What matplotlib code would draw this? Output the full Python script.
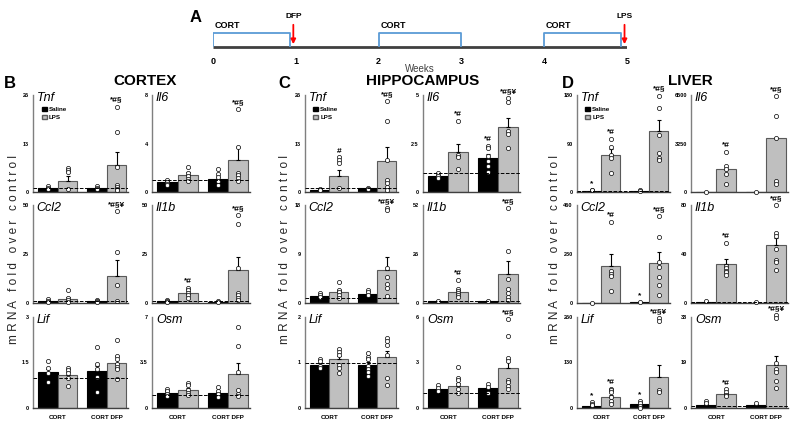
import numpy as np
import matplotlib
matplotlib.use("Agg")
import matplotlib.pyplot as plt
from matplotlib.patches import Patch

plt.rcParams['font.family'] = ['Liberation Sans', 'DejaVu Sans']

# ---- timeline (panel A) ----
week_ticks = [0, 1, 2, 3, 4, 5]
cort_periods = [(0, 0.93), (2, 3.0), (4, 4.93)]
event_names = ['DFP', 'LPS']
event_weeks = [0.97, 4.97]

# ---- groups ----
groups = ['CORT', 'CORT DFP']
treat = ['Saline', 'LPS']

# ---- cortex ----
ctx_tnf_mean = [1.0, 2.9, 1.0, 7.3]
ctx_tnf_err = [0.2, 1.5, 0.2, 3.4]
ctx_tnf_pts = [[1.5, 1.2, 0.9], [6.4, 5.9, 5.3, 0.9], [1.5, 1.1, 0.9], [22.9, 16, 6.6, 1.8, 1.4, 0.9, 0.5]]
ctx_tnf_sig = ['', '', '', '*#§']

ctx_il6_mean = [0.8, 1.42, 1.1, 2.66]
ctx_il6_err = [0.1, 0.2, 0.15, 1.05]
ctx_il6_pts = [[0.95, 0.8, 0.7, 0.6], [2.1, 1.56, 1.29, 1.07, 0.88], [1.86, 1.48, 1.26, 0.88, 0.6], [6.85, 3.73, 1.56, 1.37, 1.15, 0.93]]
ctx_il6_sig = ['', '', '', '*#§']

ctx_ccl2_mean = [0.9, 1.9, 0.9, 14]
ctx_ccl2_err = [0.3, 1.0, 0.3, 7.7]
ctx_ccl2_pts = [[2.0, 1.0, 0.5], [6.5, 2.8, 1.4, 0.5], [1.7, 0.9, 0.5], [47, 26, 9.3, 1.0]]
ctx_ccl2_sig = ['', '', '', '*#§¥']

ctx_il1b_mean = [0.9, 5.3, 0.3, 16.6]
ctx_il1b_err = [0.3, 0.6, 0.2, 6.8]
ctx_il1b_pts = [[1.7, 0.8, 0.5], [7.8, 6.6, 5.2, 4.0, 2.6], [0.9, 0.3], [45, 40.5, 18, 5.3, 4.0, 2.8, 1.7]]
ctx_il1b_sig = ['', '*#', '', '*#§']

ctx_lif_mean = [1.2, 1.09, 1.22, 1.48]
ctx_lif_err = [0.08, 0.1, 0.15, 0.22]
ctx_lif_pts = [[1.56, 1.33, 1.17, 0.86], [1.33, 1.26, 1.17, 0.99, 0.72], [2.0, 1.44, 1.3, 1.03, 0.52], [2.24, 1.7, 1.61, 1.44, 1.36, 1.28, 0.97]]
ctx_lif_sig = ['', '', '', '']

ctx_osm_mean = [1.17, 1.42, 1.14, 2.59]
ctx_osm_err = [0.1, 0.15, 0.12, 0.86]
ctx_osm_pts = [[1.48, 1.3, 1.11, 0.96], [1.94, 1.74, 1.42, 1.17, 0.98], [1.63, 1.3, 1.04, 0.85], [6.2, 4.8, 2.77, 1.42, 1.04, 0.9]]
ctx_osm_sig = ['', '', '', '']

# ---- hippocampus ----
hip_tnf_mean = [0.6, 4.2, 1.0, 8.4]
hip_tnf_err = [0.1, 1.7, 0.1, 3.6]
hip_tnf_pts = [[0.9, 0.6], [9.25, 8.5, 7.8, 1.05], [1.1, 0.9], [24.4, 18.9, 8.7, 3.1, 2.4, 1.3, 0.6]]
hip_tnf_sig = ['', '#', '', '*#§']

hip_il6_mean = [0.81, 2.08, 1.73, 3.34]
hip_il6_err = [0.06, 0.41, 0.22, 0.47]
hip_il6_pts = [[0.97, 0.85, 0.71], [3.64, 1.9, 1.78, 1.19], [2.37, 2.25, 1.86, 1.61, 1.36, 1.05], [4.83, 4.63, 3.14, 2.97, 2.25]]
hip_il6_sig = ['', '*#', '*#', '*#§¥']

hip_ccl2_mean = [1.27, 1.94, 1.7, 6.06]
hip_ccl2_err = [0.2, 0.5, 0.25, 2.44]
hip_ccl2_pts = [[1.8, 1.5, 1.1], [3.8, 2.4, 2.0, 1.5, 0.9], [2.4, 2.0, 1.5], [17.4, 17.0, 6.4, 4.7, 3.5, 2.8, 1.3]]
hip_ccl2_sig = ['', '', '', '*#§¥']

hip_il1b_mean = [0.9, 5.8, 0.9, 15.6]
hip_il1b_err = [0.2, 1.0, 0.2, 6.8]
hip_il1b_pts = [[1.2], [12, 7.4, 6.5, 5.3, 4.0, 3.0], [1.3], [50.3, 27.5, 12.6, 7.5, 5.3, 3.0, 1.75]]
hip_il1b_sig = ['', '*#', '', '*#§']

hip_lif_mean = [0.95, 1.07, 0.95, 1.11]
hip_lif_err = [0.04, 0.07, 0.06, 0.15]
hip_lif_pts = [[1.07, 1.04, 0.93, 0.87], [1.3, 1.23, 1.16, 0.95, 0.87, 0.78], [1.21, 1.13, 1.07, 0.93, 0.86, 0.79, 0.71], [1.54, 1.47, 1.39, 1.16, 0.67, 0.5]]
hip_lif_sig = ['', '', '', '']

hip_osm_mean = [1.22, 1.44, 1.29, 2.62]
hip_osm_err = [0.1, 0.2, 0.1, 0.6]
hip_osm_pts = [[1.5, 1.35, 1.1], [2.69, 2.0, 1.84, 1.56, 1.22, 0.96], [1.56, 1.4, 1.0], [5.9, 4.78, 3.29, 3.13, 1.84, 1.69, 1.47, 1.24]]
hip_osm_sig = ['', '', '', '*#§']

# ---- liver ----
liv_tnf_mean = [2.5, 69.5, 2.5, 113]
liv_tnf_err = [0.8, 10, 0.8, 20.5]
liv_tnf_pts = [[4.3, 3.0], [98, 82.6, 68, 63, 34.8], [4.0, 2.5], [179, 156.5, 105.6, 73, 63, 59]]
liv_tnf_sig = ['*', '*#', '', '*#§']

liv_il6_mean = [1, 1569, 1, 3631]
liv_il6_err = [0, 0, 0, 0]
liv_il6_pts = [[1], [2690, 1726, 1569, 1233, 516], [1], [6455, 5110, 3587, 740, 560]]
liv_il6_sig = ['', '*#', '', '*#§']

liv_ccl2_mean = [1, 173, 3, 189]
liv_ccl2_err = [0, 59, 1, 51]
liv_ccl2_pts = [[1], [380, 149, 136, 128, 56], [3], [409, 308, 192, 171, 123, 85, 37]]
liv_ccl2_sig = ['', '*#', '*', '*#§']

liv_il1b_mean = [0.5, 32, 0.3, 47.4]
liv_il1b_err = [0.2, 3.6, 0.1, 5.6]
liv_il1b_pts = [[1.4], [48.7, 30.6, 28.7, 26.5, 25, 23.1], [1.1], [80, 57, 54.3, 43.7, 35.4, 33.4, 27.3]]
liv_il1b_sig = ['', '*#', '', '*#§']

liv_lif_mean = [5.7, 31.4, 10.5, 88.6]
liv_lif_err = [2, 6, 2, 33.3]
liv_lif_pts = [[17, 12.4, 7.6], [55, 50.5, 45.7, 31.4, 19, 12.4], [19, 15, 7, 1], [257, 250, 52, 45.7]]
liv_lif_sig = ['*', '*#', '*', '*#§¥']

liv_osm_mean = [1.4, 5.7, 1.4, 17.8]
liv_osm_err = [0.3, 0.6, 0.2, 3.9]
liv_osm_pts = [[2.8, 2.1], [7.8, 6.7, 5.6, 4.9], [2.2], [38.7, 37.6, 18.9, 16.2, 15, 11.1, 8.4]]
liv_osm_sig = ['', '*#', '', '*#§¥']

# gene name, y max, data
cortex = [('Tnf', 26, ctx_tnf_mean, ctx_tnf_err, ctx_tnf_pts, ctx_tnf_sig),
          ('Il6', 8, ctx_il6_mean, ctx_il6_err, ctx_il6_pts, ctx_il6_sig),
          ('Ccl2', 50, ctx_ccl2_mean, ctx_ccl2_err, ctx_ccl2_pts, ctx_ccl2_sig),
          ('Il1b', 50, ctx_il1b_mean, ctx_il1b_err, ctx_il1b_pts, ctx_il1b_sig),
          ('Lif', 3, ctx_lif_mean, ctx_lif_err, ctx_lif_pts, ctx_lif_sig),
          ('Osm', 7, ctx_osm_mean, ctx_osm_err, ctx_osm_pts, ctx_osm_sig)]
hippo = [('Tnf', 26, hip_tnf_mean, hip_tnf_err, hip_tnf_pts, hip_tnf_sig),
         ('Il6', 5, hip_il6_mean, hip_il6_err, hip_il6_pts, hip_il6_sig),
         ('Ccl2', 18, hip_ccl2_mean, hip_ccl2_err, hip_ccl2_pts, hip_ccl2_sig),
         ('Il1b', 52, hip_il1b_mean, hip_il1b_err, hip_il1b_pts, hip_il1b_sig),
         ('Lif', 2, hip_lif_mean, hip_lif_err, hip_lif_pts, hip_lif_sig),
         ('Osm', 6, hip_osm_mean, hip_osm_err, hip_osm_pts, hip_osm_sig)]
liver = [('Tnf', 180, liv_tnf_mean, liv_tnf_err, liv_tnf_pts, liv_tnf_sig),
         ('Il6', 6500, liv_il6_mean, liv_il6_err, liv_il6_pts, liv_il6_sig),
         ('Ccl2', 460, liv_ccl2_mean, liv_ccl2_err, liv_ccl2_pts, liv_ccl2_sig),
         ('Il1b', 80, liv_il1b_mean, liv_il1b_err, liv_il1b_pts, liv_il1b_sig),
         ('Lif', 260, liv_lif_mean, liv_lif_err, liv_lif_pts, liv_lif_sig),
         ('Osm', 38, liv_osm_mean, liv_osm_err, liv_osm_pts, liv_osm_sig)]

W, H = 797, 425
fig = plt.figure(figsize=(W / 100, H / 100), dpi=100)


def px_axes(l, t, r, b):
    return fig.add_axes([l / W, 1 - b / H, (r - l) / W, (b - t) / H])


# timeline
ax = px_axes(213, 10, 627, 75)
ax.set_xlim(0, 5)
ax.set_ylim(0, 65)
ax.axis('off')
ax.plot([0, 5], [28, 28], color='#404040', lw=2.0, solid_capstyle='butt')
for a, b in cort_periods:
    ax.plot([a, a, b, b], [29, 42, 42, 29], color='#5B9BD5', lw=1.3)
    ax.text(a + 0.02, 45, 'CORT', fontsize=6.5, fontweight='bold', ha='left', va='bottom')
for name, wk in zip(event_names, event_weeks):
    ax.annotate('', xy=(wk, 28), xytext=(wk, 53),
                arrowprops=dict(arrowstyle='-|>', color='red', lw=1.3, mutation_scale=7))
    ax.text(wk, 55, name, fontsize=6, fontweight='bold', ha='center', va='bottom')
for wk in week_ticks:
    ax.text(wk, 13, str(wk), fontsize=6.5, fontweight='bold', ha='center', va='center')
ax.text(2.5, 6, 'Weeks', fontsize=7, color='#404040', ha='center', va='center')
fig.text(196 / W, 1 - 18 / H, 'A', fontsize=12, fontweight='bold', ha='center', va='center')

col_x = {'cortex': [(33, 128), (152, 250)],
         'hippo': [(305, 398), (423, 520)],
         'liver': [(577, 670), (691, 788)]}
rows_y = [(95, 192), (205, 303), (317, 408)]
xpos = np.array([-0.5, 0.5, 2.0, 3.0])
colors = ['black', '#BFBFBF', 'black', '#BFBFBF']
edges = ['black', '#595959', 'black', '#595959']


def draw_panel(ax, name, ymax, mean, err, pts, sig, bottom_row, legend):
    ax.bar(xpos, mean, width=1.0, color=colors, edgecolor=edges, linewidth=0.8, zorder=2)
    for x, m, e in zip(xpos, mean, err):
        if e > 0:
            ax.errorbar(x, m, yerr=[[0], [e]], fmt='none', ecolor='black', elinewidth=0.8,
                        capsize=1.5, capthick=0.8, zorder=3)
    for x, p in zip(xpos, pts):
        ax.plot([x] * len(p), p, 'o', ms=3, mfc='white', mec='black', mew=0.5,
                zorder=4, clip_on=False)
    for x, m, e, p, s in zip(xpos, mean, err, pts, sig):
        if s:
            top = max(max(p), m + e)
            ax.text(x, top + 0.03 * ymax, s, fontsize=6, fontweight='bold', ha='center',
                    va='bottom', clip_on=False)
    ax.axhline(1, color='black', ls='--', lw=0.7, zorder=5)
    ax.set_xlim(-1.26, 3.58)
    ax.set_ylim(0, ymax)
    ax.set_yticks([0, ymax / 2, ymax])
    ax.set_yticklabels(['{:g}'.format(v) for v in [0, ymax / 2, ymax]])
    ax.tick_params(axis='y', length=0, labelsize=4, pad=3)
    for lbl in ax.get_yticklabels():
        lbl.set_fontweight('bold')
    if bottom_row:
        ax.set_xticks([0, 2.5])
        ax.set_xticklabels(groups, fontsize=4.5, fontweight='bold')
        ax.tick_params(axis='x', length=0, pad=5)
    else:
        ax.set_xticks([])
    for sp in ['top', 'right']:
        ax.spines[sp].set_visible(False)
    ax.spines['left'].set_color('#7F7F7F')
    ax.spines['left'].set_linewidth(1.0)
    ax.spines['bottom'].set_color('#404040')
    ax.spines['bottom'].set_linewidth(1.0)
    ax.text(0.04, 1.035, name, transform=ax.transAxes, fontsize=9, style='italic',
            ha='left', va='top')
    if legend:
        handles = [Patch(facecolor='black', edgecolor='black'),
                   Patch(facecolor='#BFBFBF', edgecolor='#595959')]
        ax.legend(handles, treat, loc='upper left', bbox_to_anchor=(0.05, 0.92),
                  frameon=False, prop={'size': 4.5, 'weight': 'bold'},
                  handlelength=0.8, handleheight=0.8, handletextpad=0.3,
                  labelspacing=0.4, borderpad=0.1)


tissues = [('cortex', cortex, 'B', 'CORTEX', 10, 145, 14),
           ('hippo', hippo, 'C', 'HIPPOCAMPUS', 284, 423, 285),
           ('liver', liver, 'D', 'LIVER', 568, 690, 555)]

for key, panels, letter, title, lx, tx, ylx in tissues:
    for i, panel in enumerate(panels):
        r, c = divmod(i, 2)
        l, rr = col_x[key][c]
        t, b = rows_y[r]
        ax = px_axes(l, t, rr, b)
        draw_panel(ax, *panel, bottom_row=(r == 2), legend=(i == 0))
    fig.text(lx / W, 1 - 83 / H, letter, fontsize=12, fontweight='bold', ha='center', va='center')
    fig.text(tx / W, 1 - 81 / H, title, fontsize=11, fontweight='bold', ha='center', va='center')
    fig.text(ylx / W, 1 - 250 / H, 'm R N A   f o l d   o v e r   c o n t r o l',
             rotation=90, fontsize=8.5, color='#262626', ha='center', va='center')

fig.savefig('out.png', dpi=100)
